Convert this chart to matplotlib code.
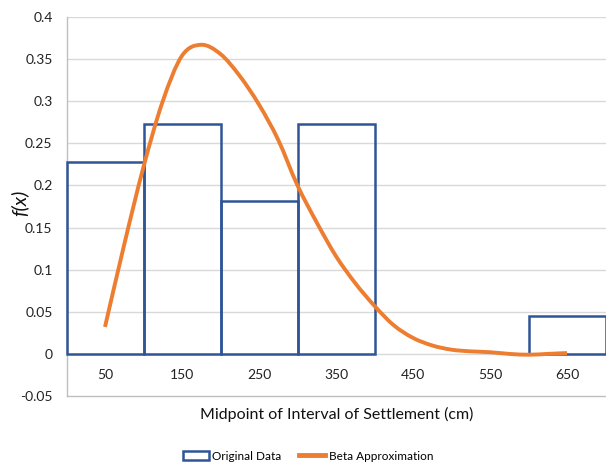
import matplotlib
matplotlib.use("Agg")
import matplotlib.pyplot as plt
import numpy as np
from matplotlib.patches import Rectangle, PathPatch
from matplotlib.path import Path
from matplotlib.lines import Line2D

# histogram of settlement (interval left edges, width 100 cm)
bin_left = [0, 100, 200, 300, 400, 500, 600]
bin_density = [0.2273, 0.2727, 0.1818, 0.2727, 0.0, 0.0, 0.0455]

# beta approximation
beta_x = [50, 75, 100, 125, 150, 175, 200, 225, 250, 275, 300, 325, 350,
          375, 400, 425, 450, 475, 500, 525, 550, 575, 600, 625, 650]
beta_y = [0.032, 0.130, 0.222, 0.300, 0.354, 0.367, 0.356, 0.330, 0.296,
          0.254, 0.200, 0.156, 0.116, 0.084, 0.057, 0.034, 0.019, 0.010,
          0.005, 0.003, 0.002, 0.000, -0.001, 0.000, 0.001]

xtick_vals = [50, 150, 250, 350, 450, 550, 650]
ytick_vals = [-0.05, 0, 0.05, 0.1, 0.15, 0.2, 0.25, 0.3, 0.35, 0.4]

blue = "#2F5597"
orange = "#ED7D31"
grid = "#D9D9D9"

plt.rcParams["font.family"] = ["Lato", "DejaVu Sans"]


def smooth_path(xs, ys):
    # excel style smoothed line: bezier segments through the points
    p = np.column_stack([xs, ys]).astype(float)
    ext = np.vstack([p[0], p, p[-1]])
    verts = [p[0]]
    codes = [Path.MOVETO]
    for i in range(1, len(ext) - 2):
        p0, p1, p2, p3 = ext[i - 1], ext[i], ext[i + 1], ext[i + 2]
        verts += [p1 + (p2 - p0) / 6, p2 - (p3 - p1) / 6, p2]
        codes += [Path.CURVE4] * 3
    return Path(verts, codes)


fig = plt.figure(figsize=(6.06, 4.65), dpi=100)
ax = fig.add_axes([66.5 / 606, 69 / 465, 539 / 606, 379 / 465])

ax.set_xlim(0, 700)
ax.set_ylim(-0.05, 0.4)

for yv in ytick_vals[1:]:
    ax.axhline(yv, color=grid, lw=1.0, zorder=1)

for left, h in zip(bin_left, bin_density):
    if h <= 0:
        continue
    ax.add_patch(Rectangle((left, 0), 100, h, fill=False, edgecolor=blue,
                           lw=1.8, zorder=3, clip_on=False))

ax.add_patch(PathPatch(smooth_path(beta_x, beta_y), fill=False,
                       edgecolor=orange, lw=2.8, zorder=4))

for s in ["top", "right"]:
    ax.spines[s].set_visible(False)
for s in ["left", "bottom"]:
    ax.spines[s].set_color("#BFBFBF")
    ax.spines[s].set_linewidth(1.0)

ax.set_yticks(ytick_vals)
ax.set_yticklabels(["-0.05", "0", "0.05", "0.1", "0.15", "0.2", "0.25",
                    "0.3", "0.35", "0.4"], fontsize=10, color="#222222")
ax.tick_params(axis="y", length=0, pad=10)
ax.set_xticks([])
for xv in xtick_vals:
    ax.text(xv, -0.025, str(xv), ha="center", va="center", fontsize=10,
            color="#222222")

fig.text(337 / 606, 1 - 414 / 465, "Midpoint of Interval of Settlement (cm)",
         ha="center", va="center", fontsize=11.5, color="#111111")
fig.text(19 / 606, 1 - 203 / 465, "f(x)", rotation=90, ha="center",
         va="center", fontsize=14.5, style="italic", color="#111111")

handles = [Rectangle((0, 0), 1, 1, fill=False, edgecolor=blue, lw=1.8),
           Line2D([], [], color=orange, lw=3.5)]
fig.legend(handles, ["Original Data", "Beta Approximation"],
           loc="center", bbox_to_anchor=(308 / 606, 1 - 456 / 465), ncol=2,
           frameon=False, fontsize=8.5, handlelength=2.2, handletextpad=0.3,
           columnspacing=1.5)

fig.savefig("out.png", dpi=100)
